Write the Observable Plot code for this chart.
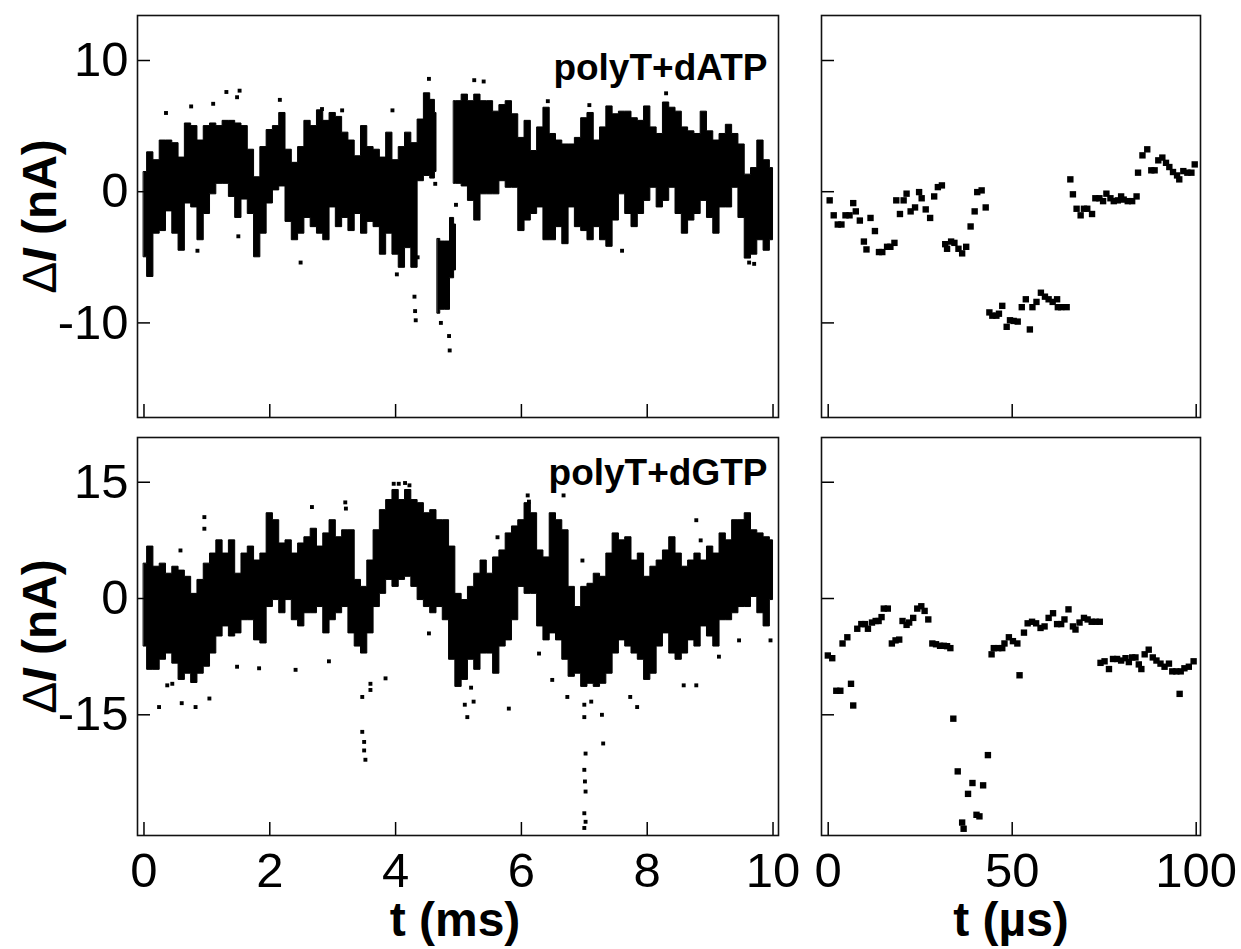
<!DOCTYPE html>
<html><head><meta charset="utf-8">
<script src="https://cdn.jsdelivr.net/npm/d3@7"></script>
<script src="https://cdn.jsdelivr.net/npm/@observablehq/plot@0.6"></script>
<style>
body{margin:0;background:#fff}
#fig{position:relative;width:1241px;height:949px;background:#fff;overflow:hidden}
#fig svg{position:absolute;overflow:visible}
</style>
</head><body><div id="fig"></div>
<script>
// ---------- data ----------
const xTicksMs = [0, 2, 4, 6, 8, 10];
const xTicksUs = [0, 50, 100];
const yTicksA = [-10, 0, 10];
const yTicksG = [-15, 0, 15];
const labelA = "polyT+dATP";
const labelG = "polyT+dGTP";

// polyT+dATP, 0-10 ms: envelope of the dense trace [t (ms), low, high], three runs
const bandA1 = [[0.0,-5.0,1.5],[0.1,-6.5,3.0],[0.2,-3.2,2.4],[0.3,-3.0,3.9],[0.4,-1.5,3.9],[0.5,-3.2,3.7],[0.6,-4.5,2.6],[0.7,-0.9,5.2],[0.8,-1.2,5.0],[0.9,-3.7,3.9],[1.0,-1.7,5.0],[1.1,-0.2,5.2],[1.2,0.6,5.0],[1.3,0.6,5.4],[1.4,-0.4,5.4],[1.5,-2.0,5.2],[1.6,-0.6,5.0],[1.7,-1.7,3.2],[1.8,-5.0,1.1],[1.9,-3.2,3.4],[2.0,-0.9,4.7],[2.1,0.1,5.0],[2.2,0.4,6.0],[2.3,-2.3,3.2],[2.4,-3.7,2.2],[2.5,-3.2,3.4],[2.6,-2.0,5.4],[2.7,-2.7,5.0],[2.8,-3.2,6.2],[2.9,-3.7,5.4],[3.0,-1.2,6.0],[3.1,-2.7,5.7],[3.2,-2.0,4.5],[3.3,-3.0,3.9],[3.4,-1.7,2.7],[3.5,-3.2,5.0],[3.6,-2.3,3.4],[3.7,-2.7,3.2],[3.8,-4.8,2.6],[3.9,-3.2,4.5],[4.0,-4.8,2.4],[4.1,-5.8,3.4],[4.2,-4.3,4.5],[4.3,-5.8,3.7],[4.4,0.8,5.5],[4.5,1.2,7.5],[4.6,1.0,7.0],[4.65,1.5,6.0]];
const bandA2 = [[4.67,-9.3,-3.6],[4.75,-9.0,-3.8],[4.83,-9.0,-3.8],[4.9,-6.6,-2.0],[4.96,-6.0,-2.5]];
const bandA3 = [[4.93,0.6,6.9],[5.0,0.6,6.9],[5.1,0.4,7.4],[5.2,-0.7,6.9],[5.3,-2.2,7.4],[5.4,-0.2,6.9],[5.5,-0.2,6.9],[5.6,-0.2,6.1],[5.7,0.8,6.6],[5.8,0.3,6.9],[5.9,0.3,5.9],[6.0,-3.0,4.1],[6.1,-2.2,5.4],[6.2,-1.7,3.1],[6.3,-1.2,4.9],[6.4,-3.7,6.4],[6.5,-3.7,4.4],[6.6,-2.7,3.9],[6.7,-4.0,3.6],[6.8,-1.2,3.6],[6.9,-2.7,4.1],[7.0,-3.0,5.6],[7.1,-3.7,6.0],[7.2,-2.7,3.9],[7.3,-3.7,4.9],[7.4,-4.2,6.5],[7.5,-2.2,5.9],[7.6,-0.2,6.1],[7.7,-1.7,6.1],[7.8,-2.7,5.6],[7.9,-1.7,5.4],[8.0,-0.7,6.5],[8.1,0.3,4.9],[8.2,-1.2,4.4],[8.3,-0.7,6.8],[8.4,0.3,6.4],[8.5,-1.7,6.1],[8.6,-3.2,4.9],[8.7,-2.2,4.6],[8.8,-1.7,4.4],[8.9,-0.7,6.1],[9.0,-2.0,4.6],[9.1,-3.2,3.9],[9.2,-1.2,4.4],[9.3,-1.2,5.1],[9.4,0.3,4.4],[9.5,-2.0,3.6],[9.6,-5.1,1.3],[9.7,-4.8,1.8],[9.8,-3.7,3.9],[9.9,-4.5,2.4],[10.0,-3.7,1.8]];
// isolated samples outside the dense band [t (ms), ΔI]
const sparseA = [[0.35,6.0],[0.75,6.5],[1.1,6.7],[1.31,7.6],[1.52,7.7],[1.48,7.2],[0.85,-4.5],[1.5,-3.4],[2.16,7.0],[2.49,-5.4],[2.83,6.3],[3.15,6.2],[3.95,6.2],[4.02,-6.3],[4.3,-8.0],[4.31,-9.1],[4.32,-9.8],[4.35,-5.0],[4.53,8.6],[4.63,0.6],[4.86,-12.1],[4.85,-11.0],[4.72,-10.0],[4.96,-1.0],[5.25,8.5],[5.4,8.4],[6.42,6.9],[7.08,6.6],[8.3,7.5],[7.6,-4.5],[9.62,-5.4],[9.7,-5.5]];

// polyT+dGTP, 0-10 ms: envelope [t (ms), low, high]
const bandG = [[0.0,-6.2,4.5],[0.1,-9.2,6.7],[0.2,-9.2,4.1],[0.3,-7.9,4.5],[0.4,-7.1,3.2],[0.5,-8.4,4.1],[0.6,-10.5,3.6],[0.7,-9.7,2.8],[0.8,-10.9,0.6],[0.9,-9.7,2.4],[1.0,-8.8,4.5],[1.1,-7.1,5.8],[1.2,-4.9,7.5],[1.3,-3.6,5.8],[1.4,-4.9,7.5],[1.5,-4.5,3.2],[1.6,-2.8,5.8],[1.7,-2.8,6.7],[1.8,-5.4,4.9],[1.9,-5.8,5.8],[2.0,-1.1,11.0],[2.1,-0.2,10.1],[2.2,-1.9,7.1],[2.3,-0.2,7.5],[2.4,-2.8,5.8],[2.5,-3.6,7.1],[2.6,-1.9,7.9],[2.7,-1.9,9.0],[2.8,-1.1,6.7],[2.9,-4.5,8.4],[3.0,-2.8,10.1],[3.1,-1.9,7.9],[3.2,-1.1,8.8],[3.3,-4.5,8.8],[3.4,-6.2,2.4],[3.5,-7.1,1.5],[3.6,-4.5,4.9],[3.7,-1.1,8.8],[3.8,0.6,11.4],[3.9,2.4,12.7],[4.0,1.5,14.0],[4.1,2.4,12.7],[4.2,2.8,14.0],[4.3,1.5,12.7],[4.4,-0.2,12.3],[4.5,-1.1,11.0],[4.6,-1.9,11.4],[4.7,-1.1,10.1],[4.8,-2.8,10.1],[4.9,-7.9,6.7],[5.0,-11.4,0.6],[5.1,-10.5,-0.2],[5.2,-7.9,1.5],[5.3,-9.2,3.2],[5.4,-7.1,4.9],[5.5,-7.1,3.2],[5.6,-9.7,5.3],[5.7,-6.2,6.2],[5.8,-5.4,8.4],[5.9,-2.8,9.3],[6.0,1.5,10.1],[6.1,0.6,12.3],[6.2,0.6,11.0],[6.3,-3.6,6.2],[6.4,-5.4,5.3],[6.5,-4.5,11.0],[6.6,-5.4,10.1],[6.7,-7.9,8.8],[6.8,-10.1,1.5],[6.9,-9.7,-1.1],[7.0,-11.4,1.5],[7.1,-11.0,1.9],[7.2,-11.4,3.2],[7.3,-11.0,2.8],[7.4,-9.7,5.8],[7.5,-7.1,8.4],[7.6,-5.4,7.5],[7.7,-6.2,7.9],[7.8,-7.1,4.9],[7.9,-7.9,5.8],[8.0,-10.5,2.8],[8.1,-9.7,4.1],[8.2,-6.2,4.9],[8.3,-4.5,6.2],[8.4,-7.1,7.9],[8.5,-7.9,5.8],[8.6,-7.1,4.1],[8.7,-5.4,4.9],[8.8,-6.2,5.8],[8.9,-3.6,4.9],[9.0,-4.9,6.7],[9.1,-6.2,5.8],[9.2,-2.8,8.4],[9.3,-2.8,7.5],[9.4,-1.9,10.1],[9.5,-1.1,10.1],[9.6,-1.1,11.0],[9.7,0.2,8.8],[9.8,-1.9,8.4],[9.9,-3.6,7.9],[10.0,-0.2,7.5]];
const sparseG = [[0.24,-14.0],[0.37,-11.2],[0.45,-11.0],[0.6,-13.5],[0.82,-14.0],[1.04,-12.9],[0.96,10.5],[0.96,9.0],[0.58,6.2],[1.48,-8.8],[1.83,-9.0],[2.41,-9.2],[2.94,-8.1],[2.67,11.8],[3.2,12.4],[3.21,11.6],[3.47,-12.7],[3.47,-17.2],[3.5,-18.5],[3.5,-19.6],[3.52,-20.8],[3.6,-11.0],[3.6,-11.8],[3.84,-10.3],[3.97,14.8],[4.05,14.8],[4.15,14.9],[4.22,14.6],[4.53,-4.5],[5.14,-15.3],[5.1,-13.7],[5.2,-11.5],[5.24,-13.3],[5.62,7.9],[5.8,-14.2],[6.1,13.3],[6.12,12.5],[6.28,-7.1],[6.49,-10.5],[6.67,13.3],[6.73,-12.7],[6.97,4.9],[7.0,-13.7],[7.0,-15.3],[7.02,-20.0],[7.0,-22.1],[7.01,-23.6],[7.02,-24.9],[7.0,-27.7],[7.02,-28.8],[7.0,-29.6],[7.11,-13.3],[7.28,-15.0],[7.3,-18.7],[7.73,-12.7],[7.84,-14.0],[8.58,-11.2],[8.78,-11.2],[8.78,10.1],[8.85,7.5],[9.14,-7.5],[9.46,-5.4],[9.96,-5.4]];

// 0-100 µs zooms: one sample per square [t (µs), ΔI (nA)]
const fastA = [[0.4,-0.66],[1.5,-1.8],[2.6,-2.5],[3.6,-2.5],[4.7,-1.8],[5.8,-1.8],[6.8,-0.87],[7.5,-1.5],[8.6,-2.2],[9.7,-3.8],[10.4,-4.4],[11.5,-2.0],[12.7,-3.0],[13.8,-4.6],[14.7,-4.6],[16.0,-4.2],[16.9,-4.2],[18.0,-3.9],[18.5,-0.66],[19.5,-1.7],[20.5,-0.66],[21.3,-0.15],[22.4,-1.5],[23.6,-1.2],[24.7,-0.03],[25.4,-0.5],[26.5,-1.35],[27.7,-2.0],[28.8,-0.36],[29.8,0.35],[30.9,0.48],[31.8,-4.0],[32.3,-4.35],[33.4,-3.8],[34.3,-3.9],[35.4,-4.35],[36.4,-4.7],[37.5,-4.2],[38.7,-2.65],[39.8,-1.5],[40.5,-0.03],[41.7,0.1],[42.8,-1.2],[43.8,-9.2],[44.6,-9.45],[45.7,-9.45],[46.4,-9.3],[47.3,-8.7],[48.5,-10.3],[49.4,-9.8],[50.4,-9.85],[51.5,-9.9],[52.6,-8.8],[53.7,-8.2],[54.8,-10.5],[55.5,-8.8],[56.6,-8.4],[57.8,-7.7],[58.9,-8.0],[59.9,-8.2],[61.0,-8.4],[62.2,-8.2],[62.4,-8.8],[63.3,-8.8],[64.8,-8.8],[65.8,0.94],[66.5,-0.2],[67.5,-1.3],[68.6,-1.8],[69.5,-1.3],[70.4,-1.3],[71.7,-1.7],[72.6,-0.5],[73.7,-0.5],[74.7,-0.72],[75.6,-0.15],[76.7,-0.5],[77.6,-0.72],[78.7,-0.66],[79.6,-0.36],[80.3,-0.6],[81.4,-0.72],[82.6,-0.72],[83.8,-0.36],[84.2,1.45],[85.4,2.77],[86.7,3.23],[87.8,1.63],[88.7,1.63],[89.7,2.39],[90.8,2.6],[91.8,2.2],[92.7,1.88],[93.7,1.5],[94.8,1.24],[95.4,0.94],[96.5,1.57],[97.6,1.45],[98.7,1.45],[99.6,2.08]];
const fastG = [[-0.1,-7.35],[1.1,-7.7],[2.2,-11.9],[3.3,-11.9],[3.9,-5.8],[5.2,-5.0],[6.2,-11.0],[6.8,-13.8],[7.9,-3.9],[9.0,-3.3],[10.0,-3.3],[10.8,-3.9],[11.9,-3.1],[12.9,-2.9],[13.7,-2.9],[14.5,-2.4],[15.1,-1.3],[16.2,-1.3],[17.3,-5.8],[18.3,-5.4],[19.3,-5.3],[20.2,-2.9],[21.3,-3.4],[22.0,-3.1],[23.1,-2.5],[24.2,-1.3],[25.3,-1.0],[26.2,-1.6],[27.2,-2.7],[28.3,-5.8],[29.3,-5.9],[30.4,-6.1],[31.4,-6.1],[32.3,-6.15],[33.2,-6.4],[34.0,-15.5],[35.2,-22.3],[36.4,-28.9],[36.8,-29.7],[38.0,-25.2],[39.2,-23.8],[40.3,-27.9],[41.1,-28.1],[42.1,-24.1],[43.4,-20.2],[44.4,-7.2],[45.0,-6.4],[46.2,-6.4],[47.3,-6.4],[47.9,-5.8],[49.1,-5.0],[50.2,-5.5],[51.4,-5.8],[52.0,-9.9],[53.2,-4.4],[54.2,-3.2],[55.4,-3.0],[56.5,-3.2],[57.7,-3.8],[58.8,-3.6],[59.9,-2.5],[61.1,-1.9],[62.2,-3.3],[63.3,-3.3],[64.2,-2.7],[65.3,-1.4],[66.5,-3.6],[67.2,-4.0],[68.3,-3.1],[69.5,-2.5],[70.5,-2.7],[71.6,-3.0],[72.7,-3.0],[73.8,-3.0],[74.0,-8.3],[75.1,-8.1],[76.3,-9.1],[77.4,-7.8],[78.5,-7.8],[79.6,-8.0],[80.8,-7.7],[81.7,-8.2],[82.6,-7.6],[83.5,-7.6],[84.4,-8.5],[85.1,-9.1],[86.0,-7.2],[87.1,-6.6],[88.2,-7.6],[89.2,-8.0],[90.3,-8.4],[91.4,-8.8],[92.6,-8.4],[93.5,-9.4],[94.6,-9.4],[95.5,-12.3],[95.8,-9.4],[96.8,-9.0],[98.0,-8.8],[99.3,-8.1]];

// ---------- drawing ----------
const FONT = '"Liberation Sans", Arial, Helvetica, sans-serif';
const fig = document.getElementById("fig");
const toBand = (runs) => runs.flatMap((run, i) => run.map(([t, lo, hi]) => ({t, lo, hi, seg: i})));
const toPts = (arr) => arr.map(([t, v]) => ({t, v}));
const fmt = d => String(d);

function place(svg, left, top) {
  svg.style.left = left + "px"; svg.style.top = top + "px";
  for (const t of svg.querySelectorAll("text")) {
    if (t.textContent === "ΔI (nA)") t.innerHTML = '<tspan font-weight="normal">Δ</tspan><tspan font-style="italic">I</tspan> (nA)';
  }
  fig.appendChild(svg);
}
const baseStyle = {fontFamily: FONT, fontSize: "49px", color: "black", background: "transparent", overflow: "visible"};
const TICK = 13;

function slowPanel({band, sparse, label, yDomain, yTicks, top, height, mt, mb, labelDy, xAxis}) {
  const W = 800, ml = 137, mr = 22;
  const pw = W - ml - mr, ph = height - mt - mb;
  const marks = [
    Plot.areaY(band, {x: "t", y1: "lo", y2: "hi", z: "seg", fill: "black", stroke: "black", strokeWidth: 1, curve: "step"}),
    Plot.dot(sparse, {x: "t", y: "v", symbol: "square", r: 2.2, fill: "black"}),
    Plot.tickY(yTicks, {y: d => d, insetRight: pw - TICK, stroke: "black", strokeWidth: 1.5}),
    Plot.tickX(xTicksMs, {x: d => d, insetTop: ph - TICK, stroke: "black", strokeWidth: 1.5}),
    Plot.text([label], {text: d => d, frameAnchor: "top-right", dx: -11, dy: labelDy, lineAnchor: "top", textAnchor: "end", fontSize: 37, fontWeight: "bold"}),
    Plot.text(["ΔI (nA)"], {text: d => d, frameAnchor: "left", dx: -97, rotate: -90, textAnchor: "middle", lineAnchor: "middle", fontSize: 48, fontWeight: "bold"}),
    Plot.frame({stroke: "#111", strokeWidth: 1.6})
  ];
  if (xAxis) marks.push(Plot.text(["t (ms)"], {text: d => d, frameAnchor: "bottom", dx: -3, dy: 85, textAnchor: "middle", lineAnchor: "middle", fontSize: 48, fontWeight: "bold"}));
  const svg = Plot.plot({
    width: W, height, marginLeft: ml, marginRight: mr, marginTop: mt, marginBottom: mb,
    style: baseStyle,
    x: xAxis ? {domain: [-0.103, 10.087], ticks: xTicksMs, tickSize: 0, tickPadding: 17, tickFormat: fmt, label: null}
             : {domain: [-0.103, 10.087], axis: null},
    y: {domain: yDomain, ticks: yTicks, tickSize: 0, tickPadding: 9, tickFormat: fmt, label: null},
    marks
  });
  place(svg, 0, top);
}

function fastPanel({pts, yDomain, yTicks, top, height, mt, mb, xAxis}) {
  const W = 441, ml = 21, mr = 41;
  const pw = W - ml - mr, ph = height - mt - mb;
  const marks = [
    Plot.dot(pts, {x: "t", y: "v", symbol: "square", r: 3.6, fill: "black"}),
    Plot.tickY(yTicks, {y: d => d, insetRight: pw - TICK, stroke: "black", strokeWidth: 1.5}),
    Plot.tickX(xTicksUs, {x: d => d, insetTop: ph - TICK, stroke: "black", strokeWidth: 1.5}),
    Plot.frame({stroke: "#111", strokeWidth: 1.6})
  ];
  if (xAxis) marks.push(Plot.text(["t (µs)"], {text: d => d, frameAnchor: "bottom", dy: 85, textAnchor: "middle", lineAnchor: "middle", fontSize: 48, fontWeight: "bold"}));
  const svg = Plot.plot({
    width: W, height, marginLeft: ml, marginRight: mr, marginTop: mt, marginBottom: mb,
    style: baseStyle,
    x: xAxis ? {domain: [-1.82, 101.17], ticks: xTicksUs, tickSize: 0, tickPadding: 17, tickFormat: fmt, label: null}
             : {domain: [-1.82, 101.17], axis: null},
    y: {domain: yDomain, axis: null},
    marks
  });
  place(svg, 800, top);
}

const domA = [-17.21, 13.43];
const domG = [-30.57, 20.77];
slowPanel({band: toBand([bandA1, bandA2, bandA3]), sparse: toPts(sparseA), label: labelA, yDomain: domA, yTicks: yTicksA, top: 0, height: 430, mt: 15, mb: 13, labelDy: 38, xAxis: false});
fastPanel({pts: toPts(fastA), yDomain: domA, yTicks: yTicksA, top: 0, height: 430, mt: 15, mb: 13, xAxis: false});
slowPanel({band: toBand([bandG]), sparse: toPts(sparseG), label: labelG, yDomain: domG, yTicks: yTicksG, top: 430, height: 519, mt: 7, mb: 114, labelDy: 21, xAxis: true});
fastPanel({pts: toPts(fastG), yDomain: domG, yTicks: yTicksG, top: 430, height: 519, mt: 7, mb: 114, xAxis: true});
</script></body></html>
